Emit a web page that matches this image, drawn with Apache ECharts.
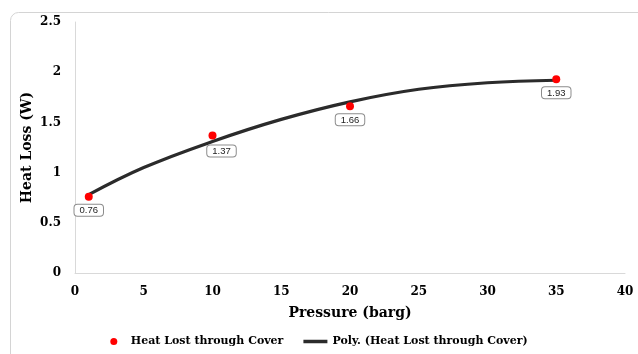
<!DOCTYPE html>
<html><head><meta charset="utf-8">
<script src="https://cdn.jsdelivr.net/npm/echarts@6/dist/echarts.min.js"></script>
<style>html,body{margin:0;padding:0;background:#fff}#c{width:638px;height:354px}</style>
</head><body><div id="c"></div>
<script>
// Measured data
var pressure = [1, 10, 20, 35];
var heatLoss = [0.76, 1.37, 1.66, 1.93];
// Trendline
var trendX = [1, 5, 10, 15, 20, 25, 30, 35];
var trendY = [0.78, 1.05, 1.31, 1.53, 1.705, 1.83, 1.895, 1.92];
var xTicks = [0, 5, 10, 15, 20, 25, 30, 35, 40];
var yTicks = [0, 0.5, 1, 1.5, 2, 2.5];
var seriesNames = ['Heat Lost through Cover', 'Poly. (Heat Lost through Cover)'];
var labelOffsets = [[0, 0], [9, 2], [0, 0], [0, 0]];

var serif = '"DejaVu Serif", serif';
var chart = echarts.init(document.getElementById('c'), null, {renderer: 'canvas'});
chart.setOption({
  animation: false,
  graphic: [{type: 'rect', left: 8, top: 10, shape: {width: 700, height: 420, r: 8},
    style: {fill: 'none', stroke: '#d4d4d4', lineWidth: 1}, z: -1}],
  grid: {left: 75, right: 13, top: 22, bottom: 81},
  xAxis: {type: 'value', min: xTicks[0], max: xTicks[xTicks.length - 1], interval: 5,
    name: 'Pressure (barg)', nameLocation: 'middle', nameGap: 33,
    nameTextStyle: {fontFamily: serif, fontWeight: 'bold', fontSize: 14, color: '#000'},
    axisLine: {show: true, lineStyle: {color: '#d9d9d9'}}, axisTick: {show: false},
    splitLine: {show: false},
    axisLabel: {fontFamily: serif, fontWeight: 'bold', fontSize: 12, color: '#000', margin: 13}},
  yAxis: {type: 'value', min: yTicks[0], max: yTicks[yTicks.length - 1], interval: 0.5,
    name: 'Heat Loss (W)', nameLocation: 'middle', nameGap: 41, nameMoveOverlap: false,
    nameTextStyle: {fontFamily: serif, fontWeight: 'bold', fontSize: 14, color: '#000'},
    axisLine: {show: true, lineStyle: {color: '#d9d9d9'}}, axisTick: {show: false},
    splitLine: {show: false},
    axisLabel: {fontFamily: serif, fontWeight: 'bold', fontSize: 12, color: '#000', margin: 14}},
  legend: {bottom: 2, left: 'center', itemGap: 20, itemWidth: 24, itemHeight: 7,
    textStyle: {fontFamily: serif, fontWeight: 'bold', fontSize: 11, color: '#000'},
    data: [{name: seriesNames[0], icon: 'circle'},
           {name: seriesNames[1], icon: 'path://M0,0 L24,0 L24,3.5 L0,3.5 Z'}]},
  series: [
    {name: seriesNames[1], type: 'line', smooth: 0.4, showSymbol: false, z: 2,
      lineStyle: {color: '#2b2b2b', width: 3.2}, itemStyle: {color: '#2b2b2b'},
      data: trendX.map(function (x, i) { return [x, trendY[i]]; })},
    {name: seriesNames[0], type: 'scatter', symbolSize: 8, z: 3,
      itemStyle: {color: '#ff0000', opacity: 1},
      data: pressure.map(function (x, i) {
        return {value: [x, heatLoss[i]], label: {offset: labelOffsets[i]}};
      }),
      label: {show: true, position: 'bottom', distance: 4,
        formatter: function (p) { return p.value[1].toFixed(2); },
        fontFamily: 'Liberation Sans, Arial, sans-serif', fontSize: 9.5, color: '#222',
        backgroundColor: '#fff', borderColor: '#8c8c8c', borderWidth: 1, borderRadius: 3,
        padding: [1, 5, 0, 5]}}
  ]
});
</script></body></html>
